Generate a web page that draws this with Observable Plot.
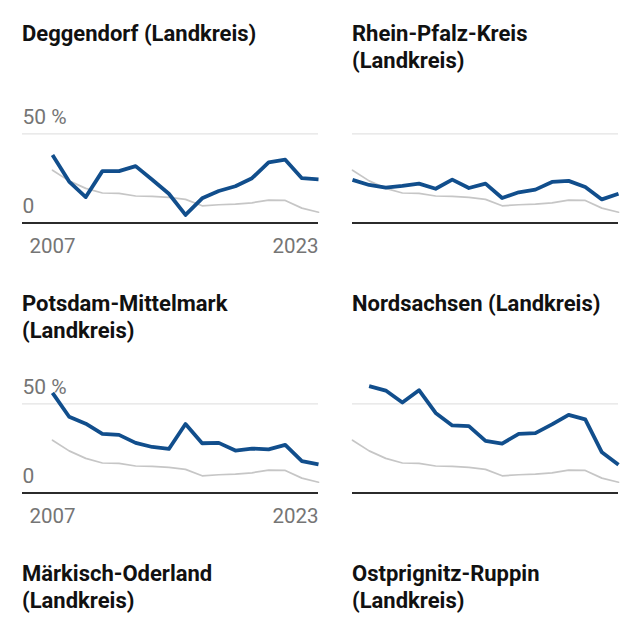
<!DOCTYPE html>
<html>
<head>
<meta charset="utf-8">
<script src="https://cdn.jsdelivr.net/npm/d3@7"></script>
<script src="https://cdn.jsdelivr.net/npm/@observablehq/plot@0.6"></script>
<style>
  html, body { margin: 0; padding: 0; background: #fff; }
  body { width: 640px; font-family: Roboto, "Noto Sans", sans-serif; }
  #grid { display: grid; grid-template-columns: 296px 266px; column-gap: 34px; padding-left: 22px; }
  .cell { height: 270px; box-sizing: border-box; padding-top: 20.8px; }
  .title { font-weight: 700; font-size: 22px; line-height: 26.7px; height: 54.1px; color: #111; }
  .cell svg { overflow: visible; display: block; }
</style>
</head>
<body>
<div id="grid"></div>
<script>
const years = [2007, 2008, 2009, 2010, 2011, 2012, 2013, 2014, 2015, 2016, 2017, 2018, 2019, 2020, 2021, 2022, 2023];
const average = [29.6, 23.6, 19.4, 16.8, 16.6, 15.1, 14.9, 14.3, 13.2, 9.6, 10.2, 10.6, 11.3, 12.8, 12.6, 8.3, 6.0];

const districts = ["Deggendorf (Landkreis)", "Rhein-Pfalz-Kreis (Landkreis)", "Potsdam-Mittelmark (Landkreis)", "Nordsachsen (Landkreis)", "Märkisch-Oderland (Landkreis)", "Ostprignitz-Ruppin (Landkreis)"];

const deggendorf = [38.1, 23.2, 14.5, 29.1, 29.1, 31.9, 24.2, 16.4, 4.5, 13.8, 17.9, 20.6, 25.1, 34.0, 35.5, 25.1, 24.5];
const rheinPfalz = [24.2, 21.3, 19.8, 20.8, 22.1, 19.2, 24.3, 19.6, 22.1, 14.0, 17.2, 18.7, 23.0, 23.6, 20.2, 13.2, 16.4];
const potsdamMittelmark = [56.2, 42.8, 38.9, 33.2, 32.6, 28.1, 25.8, 24.7, 38.7, 27.9, 28.1, 23.8, 24.9, 24.5, 27.0, 17.9, 16.0];
const nordsachsen = [null, 60.0, 57.5, 50.8, 57.7, 44.9, 37.9, 37.5, 29.2, 27.7, 33.2, 33.6, 38.5, 43.8, 41.3, 22.8, 15.8];

const series = [deggendorf, rheinPfalz, potsdamMittelmark, nordsachsen, null, null];

const yTicks = [0, 50];
const yTickLabels = ["0", "50 %"];
const xTickStart = 2007;
const xTickEnd = 2023;

function chart(values, left) {
  const data = years.map((y, i) => ({year: y, avg: average[i], v: values[i]}));
  const w = left ? 296 : 266;
  const marks = [
    Plot.ruleY([50], {stroke: "#e3e3e3", strokeWidth: 1.3}),
    Plot.line(data, {x: "year", y: "avg", stroke: "#c6c6c6", strokeWidth: 1.7}),
    Plot.line(data.filter(d => d.v != null), {x: "year", y: "v", stroke: "#114e8c", strokeWidth: 3.8, strokeLinecap: "butt"}),
    Plot.ruleY([0], {stroke: "#2b2b2b", strokeWidth: 2})
  ];
  if (left) {
    marks.push(
      Plot.text(yTicks, {y: d => d, text: (d, i) => yTickLabels[i], frameAnchor: "left", textAnchor: "start", dy: -16.8, fill: "#757575", fontSize: 21}),
      Plot.text([xTickStart], {x: d => d, y: () => 0, text: d => String(d), textAnchor: "middle", dy: 23.5, fill: "#757575", fontSize: 20.5}),
      Plot.text([xTickEnd], {x: d => d, y: () => 0, text: d => String(d), textAnchor: "end", dy: 23.5, fill: "#757575", fontSize: 20.5})
    );
  }
  return Plot.plot({
    width: w, height: 195,
    marginLeft: 0, marginRight: 0, marginTop: 0, marginBottom: 0,
    x: {domain: [2007, 2023], range: left ? [30, 296] : [0, 266], axis: null},
    y: {domain: [0, 50], range: [147.4, 58.4], axis: null},
    style: {fontFamily: "Roboto, sans-serif", overflow: "visible", background: "transparent"},
    marks
  });
}

const grid = document.getElementById("grid");
districts.forEach((name, i) => {
  const cell = document.createElement("div");
  cell.className = "cell";
  const t = document.createElement("div");
  t.className = "title";
  t.textContent = name;
  cell.appendChild(t);
  if (series[i]) cell.appendChild(chart(series[i], i % 2 === 0));
  grid.appendChild(cell);
});
</script>
</body>
</html>
